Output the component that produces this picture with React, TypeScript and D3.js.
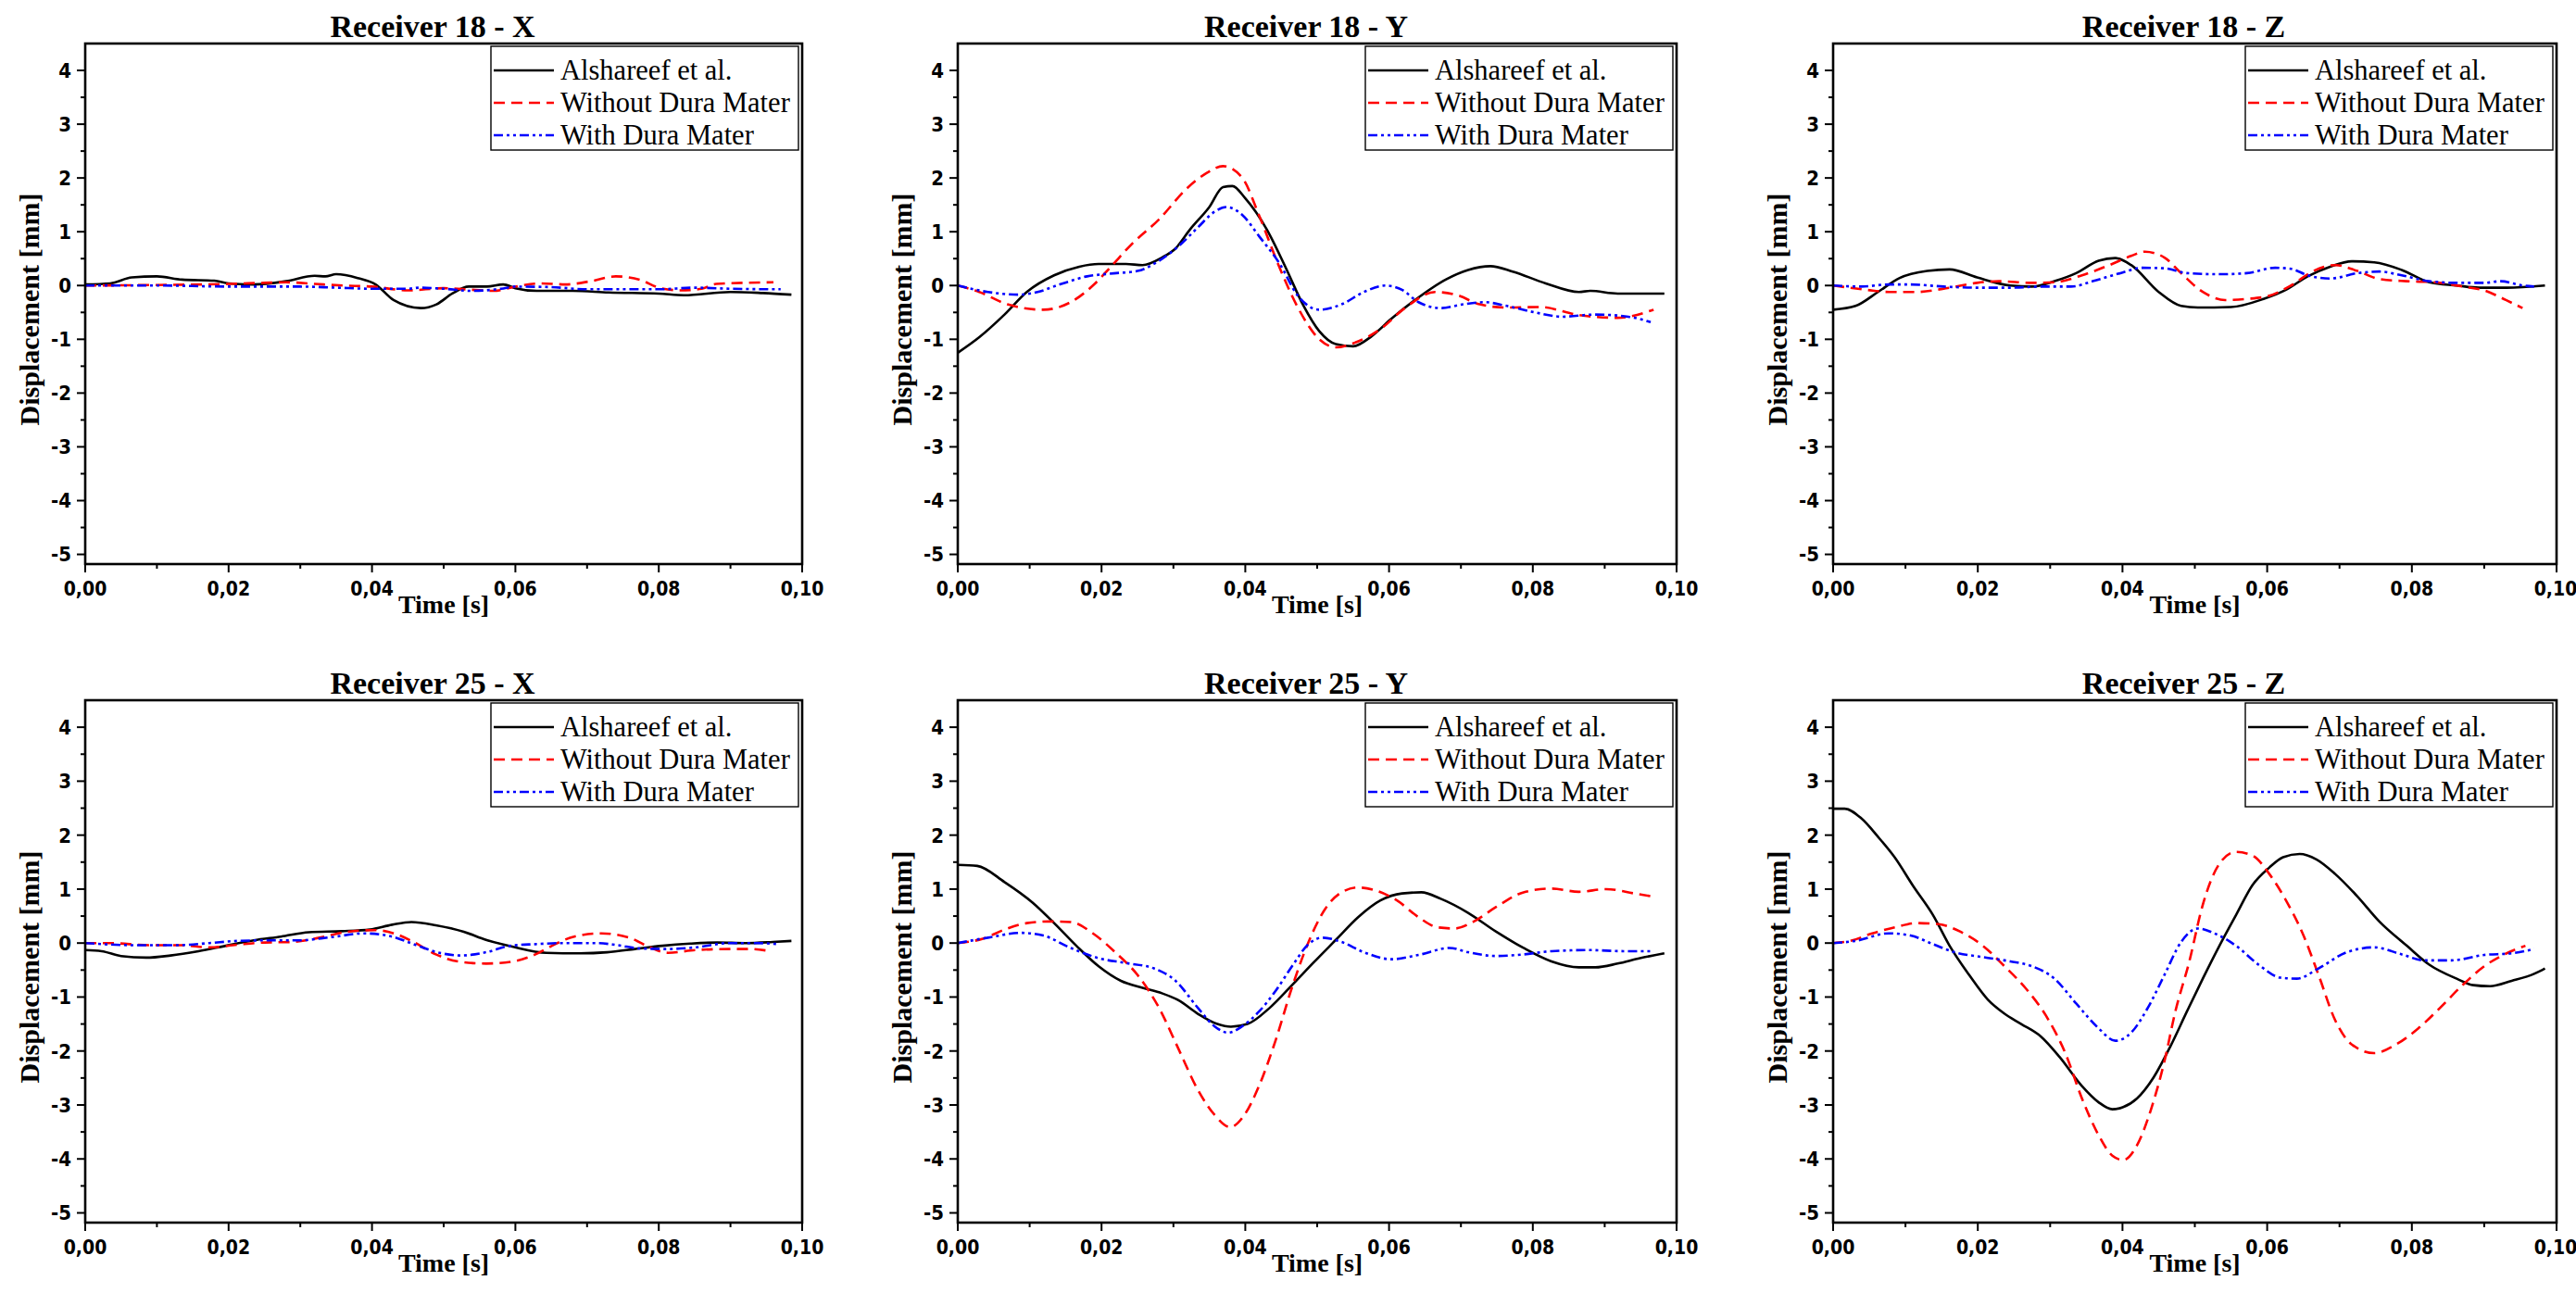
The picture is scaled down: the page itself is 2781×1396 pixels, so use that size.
import React from "react";
import * as d3 from "d3";

type P = [number, number];

// ---------- Data (time [s], displacement [mm]) ----------
const r18X_als: P[] = [[0,0.02],[0.0035,0.04],[0.0065,0.15],[0.010,0.17],[0.0135,0.11],[0.018,0.09],[0.020,0.04],[0.0235,0.02],[0.028,0.08],[0.032,0.18],[0.0335,0.17],[0.035,0.21],[0.038,0.14],[0.0405,0.02],[0.043,-0.27],[0.0468,-0.42],[0.049,-0.35],[0.0512,-0.15],[0.0535,-0.02],[0.056,-0.02],[0.0583,0.02],[0.060,-0.05],[0.063,-0.1],[0.068,-0.1],[0.073,-0.13],[0.080,-0.15],[0.0835,-0.18],[0.090,-0.12],[0.0945,-0.14],[0.0985,-0.17]];
const r18X_without: P[] = [[0,0],[0.01,0.01],[0.02,0.03],[0.025,0.05],[0.028,0.06],[0.032,0.03],[0.036,0.0],[0.040,-0.02],[0.045,-0.09],[0.05,-0.05],[0.054,-0.08],[0.057,-0.1],[0.060,-0.02],[0.0635,0.04],[0.067,0.02],[0.0705,0.08],[0.074,0.17],[0.0775,0.1],[0.080,-0.04],[0.083,-0.09],[0.086,-0.06],[0.088,0.03],[0.096,0.06]];
const r18X_with: P[] = [[0,0],[0.01,0.0],[0.02,-0.02],[0.03,-0.02],[0.035,-0.04],[0.04,-0.06],[0.045,-0.06],[0.0466,-0.04],[0.05,-0.06],[0.054,-0.1],[0.058,-0.06],[0.06,-0.02],[0.065,-0.03],[0.07,-0.07],[0.075,-0.07],[0.08,-0.07],[0.085,-0.04],[0.09,-0.06],[0.097,-0.07]];

const r18Y_als: P[] = [[0,-1.25],[0.003,-0.96],[0.0065,-0.54],[0.0096,-0.12],[0.0134,0.19],[0.0169,0.35],[0.0196,0.40],[0.0234,0.40],[0.0257,0.38],[0.0284,0.52],[0.0303,0.69],[0.0323,1.04],[0.035,1.46],[0.0369,1.83],[0.0382,1.85],[0.040,1.62],[0.043,1.04],[0.0457,0.31],[0.048,-0.35],[0.0503,-0.85],[0.0526,-1.09],[0.055,-1.13],[0.0576,-0.94],[0.0603,-0.62],[0.0634,-0.29],[0.068,0.12],[0.071,0.29],[0.0741,0.36],[0.0772,0.26],[0.0818,0.04],[0.0864,-0.12],[0.088,-0.10],[0.0918,-0.15],[0.0983,-0.15]];
const r18Y_without: P[] = [[0,0],[0.003,-0.12],[0.0069,-0.35],[0.0119,-0.45],[0.0157,-0.31],[0.0188,0.0],[0.0211,0.32],[0.0242,0.77],[0.028,1.23],[0.0319,1.81],[0.0346,2.09],[0.0369,2.22],[0.0396,2.0],[0.0419,1.31],[0.0445,0.42],[0.0472,-0.38],[0.0503,-1.0],[0.0526,-1.15],[0.0553,-1.06],[0.0588,-0.81],[0.0622,-0.42],[0.0664,-0.12],[0.0695,-0.18],[0.0726,-0.35],[0.0764,-0.41],[0.081,-0.40],[0.0864,-0.55],[0.0918,-0.60],[0.0968,-0.45]];
const r18Y_with: P[] = [[0,0],[0.0042,-0.12],[0.0084,-0.17],[0.0111,-0.12],[0.0142,0.02],[0.018,0.17],[0.0211,0.22],[0.025,0.27],[0.028,0.46],[0.0307,0.73],[0.0334,1.08],[0.0357,1.37],[0.0374,1.46],[0.0396,1.31],[0.0419,0.92],[0.0449,0.38],[0.0472,-0.17],[0.0503,-0.45],[0.0534,-0.35],[0.0565,-0.12],[0.0595,0.0],[0.0618,-0.08],[0.0641,-0.31],[0.0672,-0.42],[0.0703,-0.35],[0.0733,-0.31],[0.0764,-0.38],[0.0803,-0.5],[0.0841,-0.58],[0.0887,-0.54],[0.0933,-0.58],[0.0964,-0.68]];

const r18Z_als: P[] = [[0,-0.45],[0.0031,-0.38],[0.0062,-0.12],[0.0092,0.14],[0.013,0.27],[0.0161,0.30],[0.0199,0.15],[0.0245,0.0],[0.0275,-0.02],[0.0306,0.08],[0.0336,0.23],[0.0367,0.46],[0.039,0.51],[0.0412,0.38],[0.045,-0.12],[0.0481,-0.38],[0.0504,-0.41],[0.055,-0.40],[0.0595,-0.25],[0.0626,-0.08],[0.0656,0.17],[0.0687,0.35],[0.0717,0.45],[0.0748,0.43],[0.0786,0.29],[0.0824,0.06],[0.0862,0.0],[0.0893,-0.04],[0.0931,-0.04],[0.0984,0.0]];
const r18Z_without: P[] = [[0,0],[0.0046,-0.08],[0.0077,-0.12],[0.0115,-0.12],[0.0161,-0.04],[0.0199,0.05],[0.0229,0.08],[0.0275,0.05],[0.0306,0.06],[0.0344,0.19],[0.0382,0.38],[0.0412,0.55],[0.0431,0.63],[0.0458,0.52],[0.0481,0.23],[0.0511,-0.12],[0.0542,-0.27],[0.0572,-0.25],[0.0603,-0.19],[0.0633,0.0],[0.0664,0.27],[0.0694,0.38],[0.0725,0.27],[0.0755,0.12],[0.0793,0.08],[0.0832,0.06],[0.087,-0.02],[0.09,-0.09],[0.093,-0.27],[0.0953,-0.42]];
const r18Z_with: P[] = [[0,0],[0.0039,-0.02],[0.0077,0.02],[0.0107,0.02],[0.0153,-0.02],[0.0199,-0.04],[0.0245,-0.04],[0.029,-0.02],[0.0329,-0.02],[0.0359,0.08],[0.0397,0.23],[0.0428,0.33],[0.0458,0.32],[0.0489,0.23],[0.0534,0.21],[0.0572,0.23],[0.0611,0.33],[0.0633,0.31],[0.0656,0.19],[0.0687,0.13],[0.0725,0.23],[0.0755,0.26],[0.0786,0.19],[0.0824,0.08],[0.0862,0.05],[0.09,0.05],[0.0923,0.08],[0.0953,0.0],[0.0969,-0.02]];

const r25X_als: P[] = [[0,-0.13],[0.0023,-0.15],[0.005,-0.24],[0.0085,-0.27],[0.0119,-0.23],[0.0158,-0.15],[0.0196,-0.05],[0.0235,0.05],[0.0273,0.12],[0.0312,0.20],[0.0358,0.22],[0.0397,0.25],[0.0428,0.34],[0.0455,0.39],[0.0489,0.33],[0.0528,0.21],[0.0559,0.06],[0.0597,-0.07],[0.0643,-0.18],[0.069,-0.19],[0.0728,-0.17],[0.0767,-0.11],[0.0805,-0.05],[0.0844,-0.01],[0.0882,0.01],[0.0921,0.0],[0.0959,0.02],[0.0985,0.04]];
const r25X_without: P[] = [[0,0],[0.0035,0],[0.0089,-0.04],[0.0135,-0.04],[0.0173,-0.08],[0.0212,-0.03],[0.025,0.01],[0.0289,0.02],[0.0327,0.1],[0.0366,0.21],[0.0404,0.24],[0.0435,0.16],[0.0458,0.02],[0.0489,-0.21],[0.052,-0.34],[0.0559,-0.38],[0.0597,-0.34],[0.0628,-0.21],[0.0651,-0.05],[0.0682,0.12],[0.072,0.18],[0.0759,0.1],[0.0786,-0.07],[0.0813,-0.18],[0.0851,-0.13],[0.0898,-0.11],[0.0928,-0.11],[0.0951,-0.14]];
const r25X_with: P[] = [[0,0],[0.0073,-0.04],[0.0127,-0.04],[0.0173,0],[0.0212,0.04],[0.025,0.05],[0.0297,0.05],[0.0343,0.11],[0.0389,0.18],[0.0428,0.12],[0.0462,-0.04],[0.0497,-0.19],[0.0524,-0.23],[0.0559,-0.17],[0.0593,-0.05],[0.0628,-0.02],[0.0666,0],[0.0713,0],[0.0743,-0.04],[0.0774,-0.1],[0.0813,-0.11],[0.0851,-0.08],[0.0898,0],[0.0936,0],[0.0967,-0.02]];

const r25Y_als: P[] = [[0,1.45],[0.0027,1.43],[0.0065,1.13],[0.0104,0.75],[0.0134,0.37],[0.0165,-0.05],[0.0196,-0.43],[0.0227,-0.70],[0.0257,-0.83],[0.0284,-0.93],[0.0307,-1.06],[0.0334,-1.31],[0.0361,-1.50],[0.038,-1.55],[0.0403,-1.50],[0.0434,-1.20],[0.0465,-0.78],[0.0495,-0.36],[0.0526,0.06],[0.0557,0.48],[0.0588,0.79],[0.0618,0.92],[0.0645,0.94],[0.0672,0.82],[0.071,0.56],[0.0749,0.21],[0.0787,-0.09],[0.0826,-0.34],[0.0864,-0.45],[0.0887,-0.45],[0.0918,-0.38],[0.0949,-0.28],[0.0983,-0.19]];
const r25Y_without: P[] = [[0,0],[0.0035,0.08],[0.0065,0.25],[0.0096,0.37],[0.0127,0.40],[0.0157,0.39],[0.0188,0.18],[0.0219,-0.17],[0.025,-0.59],[0.028,-1.20],[0.0307,-1.96],[0.0334,-2.72],[0.0357,-3.18],[0.0379,-3.41],[0.0399,-3.18],[0.0419,-2.65],[0.0442,-1.81],[0.0465,-0.82],[0.0488,0.02],[0.0511,0.63],[0.0534,0.94],[0.0557,1.03],[0.058,0.98],[0.0611,0.79],[0.0641,0.48],[0.0668,0.29],[0.0691,0.27],[0.0718,0.40],[0.0749,0.67],[0.0787,0.94],[0.0826,1.01],[0.0864,0.95],[0.0902,1.0],[0.0941,0.92],[0.0968,0.86]];
const r25Y_with: P[] = [[0,0],[0.0042,0.1],[0.0088,0.19],[0.0119,0.14],[0.0157,-0.09],[0.0196,-0.28],[0.0234,-0.37],[0.0273,-0.47],[0.0303,-0.70],[0.0334,-1.20],[0.0357,-1.54],[0.0376,-1.66],[0.0396,-1.54],[0.0419,-1.27],[0.0442,-0.89],[0.0465,-0.43],[0.0488,-0.02],[0.0507,0.1],[0.0534,0.02],[0.0565,-0.17],[0.0603,-0.30],[0.0641,-0.22],[0.0684,-0.09],[0.071,-0.17],[0.0749,-0.24],[0.0787,-0.21],[0.0826,-0.15],[0.0879,-0.13],[0.0926,-0.15],[0.0968,-0.15]];

const r25Z_als: P[] = [[0,2.49],[0.0016,2.49],[0.0039,2.31],[0.0062,1.97],[0.0085,1.59],[0.0111,1.05],[0.0138,0.52],[0.0161,-0.05],[0.0188,-0.59],[0.0214,-1.05],[0.0237,-1.31],[0.026,-1.50],[0.0287,-1.73],[0.0313,-2.11],[0.0344,-2.65],[0.0367,-2.95],[0.0386,-3.08],[0.0401,-3.04],[0.042,-2.88],[0.0443,-2.49],[0.0466,-1.92],[0.0489,-1.27],[0.0511,-0.66],[0.0534,-0.05],[0.0557,0.52],[0.058,1.08],[0.0603,1.40],[0.0622,1.59],[0.0645,1.65],[0.0668,1.55],[0.0694,1.28],[0.0725,0.86],[0.0755,0.40],[0.0793,-0.05],[0.0824,-0.40],[0.0862,-0.66],[0.0885,-0.78],[0.0908,-0.80],[0.0938,-0.70],[0.0969,-0.57],[0.0984,-0.47]];
const r25Z_without: P[] = [[0,0],[0.0024,0.04],[0.0054,0.18],[0.0085,0.29],[0.0115,0.37],[0.0146,0.35],[0.0176,0.21],[0.0207,-0.05],[0.0237,-0.43],[0.0267,-0.85],[0.0298,-1.43],[0.0321,-2.04],[0.0344,-2.88],[0.0367,-3.56],[0.0386,-3.94],[0.0401,-4.02],[0.042,-3.75],[0.0439,-3.10],[0.0458,-2.19],[0.0473,-1.27],[0.0492,-0.36],[0.0511,0.71],[0.0534,1.47],[0.0557,1.69],[0.058,1.62],[0.0603,1.28],[0.0626,0.79],[0.0649,0.18],[0.0671,-0.59],[0.0694,-1.43],[0.0717,-1.88],[0.0748,-2.04],[0.0778,-1.88],[0.0809,-1.58],[0.0839,-1.20],[0.087,-0.78],[0.09,-0.43],[0.0931,-0.19],[0.0957,-0.05]];
const r25Z_with: P[] = [[0,0],[0.0031,0.04],[0.0077,0.18],[0.0107,0.14],[0.0138,-0.02],[0.0168,-0.17],[0.0207,-0.26],[0.0245,-0.34],[0.0275,-0.43],[0.0306,-0.66],[0.0336,-1.12],[0.0367,-1.58],[0.039,-1.81],[0.0412,-1.66],[0.0435,-1.20],[0.0458,-0.59],[0.0481,0.02],[0.0504,0.27],[0.0527,0.18],[0.0557,-0.05],[0.0588,-0.40],[0.0618,-0.64],[0.0641,-0.66],[0.0671,-0.47],[0.071,-0.17],[0.0748,-0.08],[0.0786,-0.21],[0.0817,-0.32],[0.0855,-0.32],[0.09,-0.22],[0.0938,-0.19],[0.0969,-0.11]];

const seriesNames = ["Alshareef et al.", "Without Dura Mater", "With Dura Mater"];
const panelTitles = ["Receiver 18 - X", "Receiver 18 - Y", "Receiver 18 - Z", "Receiver 25 - X", "Receiver 25 - Y", "Receiver 25 - Z"];
const panelData: P[][][] = [
  [r18X_als, r18X_without, r18X_with],
  [r18Y_als, r18Y_without, r18Y_with],
  [r18Z_als, r18Z_without, r18Z_with],
  [r25X_als, r25X_without, r25X_with],
  [r25Y_als, r25Y_without, r25Y_with],
  [r25Z_als, r25Z_without, r25Z_with],
];
const xMajorTicks = [0, 0.02, 0.04, 0.06, 0.08, 0.10];
const xMinorTicks = [0.01, 0.03, 0.05, 0.07, 0.09];
const yMajorTicks = [-5, -4, -3, -2, -1, 0, 1, 2, 3, 4];
const yMinorTicks = [-4.5, -3.5, -2.5, -1.5, -0.5, 0.5, 1.5, 2.5, 3.5];
const xDomain: [number, number] = [0, 0.10];
const yDomain: [number, number] = [-5.18, 4.5];
const xLabel = "Time [s]";
const yLabel = "Displacement [mm]";

// ---------- Layout / styles ----------
const W = 2781, H = 1396;
const colLeft = [92, 1034, 1979];
const colRight = [866, 1810, 2760];
const rowTop = [47, 756];
const rowBottom = [609, 1320];
const seriesStyle = [
  { color: "#000000", dash: "none" },
  { color: "#ff0000", dash: "12,7" },
  { color: "#0000ff", dash: "10,4,3,4,3,4" },
];
const serif = "'Liberation Serif', 'Times New Roman', serif";
const narrow = "'Liberation Sans Narrow', 'DejaVu Sans Condensed', 'Liberation Sans', sans-serif";

function Panel({ idx }: { idx: number }) {
  const col = idx % 3, row = Math.floor(idx / 3);
  const L = colLeft[col], R = colRight[col], T = rowTop[row], B = rowBottom[row];
  const x = d3.scaleLinear().domain(xDomain).range([L, R]);
  const y = d3.scaleLinear().domain(yDomain).range([B, T]);
  const line = d3.line<P>().x(d => x(d[0])).y(d => y(d[1])).curve(d3.curveMonotoneX);
  const clipId = `clip${idx}`;
  const legW = 332, legH = 112;
  const legX = R - 4 - legW, legY = T + 3;
  const fmt = (v: number) => v.toFixed(2).replace(".", ",");
  return (
    <g>
      <defs>
        <clipPath id={clipId}><rect x={L} y={T} width={R - L} height={B - T} /></clipPath>
      </defs>
      <g clipPath={`url(#${clipId})`}>
        {panelData[idx].map((s, i) => (
          <path key={i} d={line(s) || ""} fill="none" stroke={seriesStyle[i].color}
            strokeWidth={2.6} strokeDasharray={seriesStyle[i].dash} strokeLinejoin="round" />
        ))}
      </g>
      {yMajorTicks.map(t => (
        <g key={"ym" + t}>
          <line x1={L - 9} x2={L} y1={y(t)} y2={y(t)} stroke="#000" strokeWidth={2} />
          <text x={L - 15} y={y(t)} dy="0.36em" textAnchor="end" fontFamily={narrow} fontWeight="bold" fontSize={22}>{t}</text>
        </g>
      ))}
      {yMinorTicks.map(t => (
        <line key={"yn" + t} x1={L - 5} x2={L} y1={y(t)} y2={y(t)} stroke="#000" strokeWidth={2} />
      ))}
      {xMajorTicks.map(t => (
        <g key={"xm" + t}>
          <line x1={x(t)} x2={x(t)} y1={B} y2={B + 9} stroke="#000" strokeWidth={2} />
          <text x={Math.min(x(t), W - 22)} y={B + 34} textAnchor="middle" fontFamily={narrow} fontWeight="bold" fontSize={21}>{fmt(t)}</text>
        </g>
      ))}
      {xMinorTicks.map(t => (
        <line key={"xn" + t} x1={x(t)} x2={x(t)} y1={B} y2={B + 5} stroke="#000" strokeWidth={2} />
      ))}
      <rect x={L} y={T} width={R - L} height={B - T} fill="none" stroke="#000" strokeWidth={2.6} />
      <rect x={legX} y={legY} width={legW} height={legH} fill="#fff" stroke="#000" strokeWidth={1.4} />
      {seriesNames.map((n, i) => {
        const cy = legY + 26 + i * 35;
        return (
          <g key={n}>
            <line x1={legX + 3} x2={legX + 68} y1={cy} y2={cy} stroke={seriesStyle[i].color}
              strokeWidth={2.6} strokeDasharray={seriesStyle[i].dash} />
            <text x={legX + 75} y={cy + 10} fontFamily={serif} fontSize={30.5}>{n}</text>
          </g>
        );
      })}
      <text x={(L + R) / 2 - 12} y={T - 7} textAnchor="middle" fontFamily={serif} fontWeight="bold" fontSize={34}>{panelTitles[idx]}</text>
      <text x={(L + R) / 2} y={B + 53} textAnchor="middle" fontFamily={serif} fontWeight="bold" fontSize={28}>{xLabel}</text>
      <text transform={`translate(${L - 50},${(T + B) / 2 + 6}) rotate(-90)`} textAnchor="middle"
        fontFamily={serif} fontWeight="bold" fontSize={30}>{yLabel}</text>
    </g>
  );
}

export default function App() {
  return (
    <div style={{ position: "absolute", left: 0, top: 0 }}>
      <svg width={W} height={H} viewBox={`0 0 ${W} ${H}`} style={{ display: "block", background: "#fff" }}>
        <rect x={0} y={0} width={W} height={H} fill="#fff" />
        {panelTitles.map((_, i) => <Panel key={i} idx={i} />)}
      </svg>
    </div>
  );
}
